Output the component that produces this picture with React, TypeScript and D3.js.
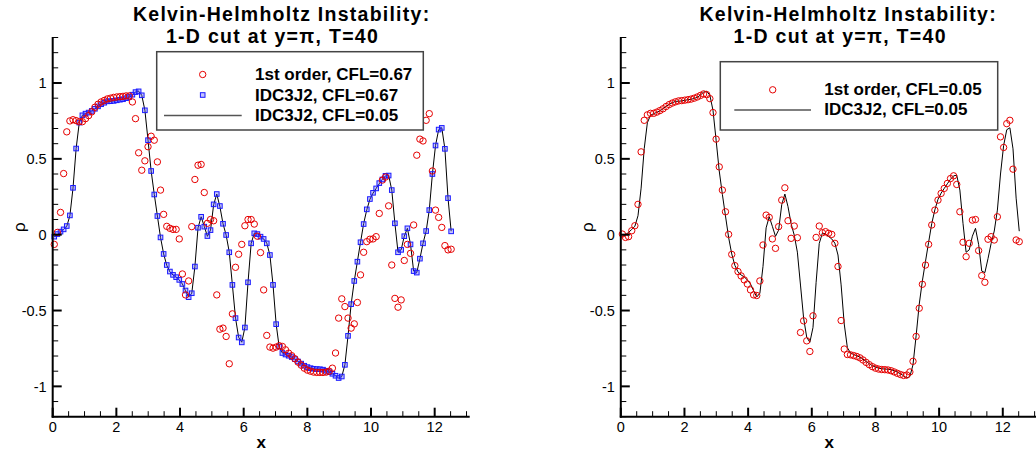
import React from 'react';
import * as d3 from 'd3';

// ---------- data ----------
const cellCount = 128;
const cellWidth = Math.PI / 32; // 4*pi / 128 cells
const xCells = d3.range(cellCount).map((i) => (i + 0.5) * cellWidth);

// IDC3J2, CFL=0.05 (reference line)
const idc3j2Cfl005 = [
  -0.013, 0.0, 0.015, 0.035, 0.055, 0.125, 0.307, 0.568, 0.738, 0.787,
  0.798, 0.806, 0.816, 0.83, 0.846, 0.86, 0.87, 0.879, 0.88, 0.882,
  0.886, 0.89, 0.893, 0.898, 0.906, 0.921, 0.94, 0.946, 0.919, 0.82,
  0.623, 0.42, 0.266, 0.123, -0.018, -0.127, -0.202, -0.245, -0.266, -0.278,
  -0.299, -0.325, -0.37, -0.411, -0.386, -0.21, 0.045, 0.118, 0.055, -0.011,
  0.03, 0.198, 0.268, 0.185, 0.072, -0.003, -0.115, -0.332, -0.55, -0.677,
  -0.709, -0.612, -0.314, -0.058, 0.01, 0.006, -0.012, -0.028, -0.056, -0.134,
  -0.331, -0.589, -0.745, -0.78, -0.79, -0.798, -0.807, -0.82, -0.836, -0.85,
  -0.864, -0.873, -0.88, -0.884, -0.886, -0.887, -0.89, -0.897, -0.906, -0.917,
  -0.93, -0.945, -0.935, -0.858, -0.667, -0.458, -0.305, -0.176, -0.05, 0.073,
  0.164, 0.233, 0.274, 0.305, 0.336, 0.365, 0.388, 0.392, 0.294, 0.075,
  -0.116, -0.1, -0.01, 0.042, -0.064, -0.24, -0.25, -0.158, -0.057, 0.024,
  0.162, 0.4, 0.588, 0.692, 0.705, 0.566, 0.241, 0.023,
];

// IDC3J2, CFL=0.67 (squares) – read as lying on the reference curve
const idc3j2Cfl067 = [
  -0.013, 0.004, 0.02, 0.035, 0.057, 0.127, 0.309, 0.568, 0.739, 0.787,
  0.798, 0.805, 0.816, 0.83, 0.846, 0.86, 0.87, 0.879, 0.88, 0.882,
  0.886, 0.89, 0.893, 0.9, 0.908, 0.923, 0.94, 0.945, 0.919, 0.82,
  0.623, 0.42, 0.265, 0.123, -0.018, -0.127, -0.2, -0.243, -0.265, -0.28,
  -0.298, -0.325, -0.368, -0.412, -0.386, -0.21, 0.046, 0.118, 0.053, -0.009,
  0.03, 0.2, 0.268, 0.189, 0.072, -0.002, -0.116, -0.331, -0.55, -0.678,
  -0.71, -0.612, -0.314, -0.057, 0.009, 0.004, -0.013, -0.028, -0.057, -0.134,
  -0.331, -0.59, -0.737, -0.78, -0.79, -0.798, -0.807, -0.82, -0.836, -0.85,
  -0.864, -0.873, -0.88, -0.884, -0.886, -0.887, -0.89, -0.897, -0.906, -0.917,
  -0.93, -0.945, -0.935, -0.858, -0.667, -0.458, -0.305, -0.178, -0.05, 0.07,
  0.167, 0.235, 0.276, 0.305, 0.34, 0.364, 0.388, 0.39, 0.294, 0.075,
  -0.116, -0.1, -0.01, 0.042, -0.064, -0.24, -0.25, -0.158, -0.057, 0.024,
  0.162, 0.4, 0.588, 0.693, 0.704, 0.566, 0.241, 0.022,
];

// 1st order, CFL=0.67 (left panel circles)
const firstOrderCfl067 = [
  -0.064, 0.015, 0.147, 0.403, 0.678, 0.75, 0.758, 0.752, 0.745, 0.745,
  0.765, 0.785, 0.81, 0.84, 0.86, 0.875, 0.885, 0.895, 0.9, 0.905,
  0.908, 0.91, 0.912, 0.915, 0.915, 0.875, 0.765, 0.54, 0.425, 0.487,
  0.58, 0.649, 0.623, 0.48, 0.294, 0.134, 0.055, 0.042, 0.035, 0.035,
  -0.028, -0.259, -0.397, -0.305, 0.053, 0.364, 0.458, 0.463, 0.278, 0.075,
  0.1, 0.092, -0.397, -0.623, -0.616, -0.671, -0.851, -0.522, -0.215, -0.129,
  -0.064, 0.059, 0.1, 0.1, 0.07, -0.01, -0.118, -0.364, -0.664, -0.741,
  -0.748, -0.741, -0.732, -0.737, -0.759, -0.781, -0.798, -0.818, -0.84, -0.86,
  -0.88, -0.893, -0.9, -0.906, -0.908, -0.908, -0.908, -0.906, -0.9, -0.88,
  -0.78, -0.55, -0.423, -0.474, -0.55, -0.616, -0.588, -0.447, -0.265, -0.116,
  -0.046, -0.03, -0.028, -0.013, 0.14, 0.36, 0.38, 0.19, -0.2, -0.42,
  -0.478, -0.43, -0.17, -0.064, -0.123, 0.064, 0.524, 0.63, 0.618, 0.754,
  0.798, 0.42, 0.162, 0.114, 0.048, -0.072, -0.1, -0.096,
];

// 1st order, CFL=0.05 (right panel circles)
const firstOrderCfl005 = [
  0.004, -0.018, -0.013, 0.026, 0.059, 0.2, 0.546, 0.754, 0.79, 0.8,
  0.8, 0.808, 0.818, 0.83, 0.845, 0.858, 0.868, 0.876, 0.882, 0.884,
  0.887, 0.89, 0.894, 0.9, 0.908, 0.918, 0.928, 0.923, 0.897, 0.805,
  0.63, 0.447, 0.294, 0.151, 0.002, -0.13, -0.204, -0.243, -0.272, -0.298,
  -0.325, -0.364, -0.397, -0.401, -0.305, -0.068, 0.129, 0.114, -0.028, -0.09,
  0.053, 0.228, 0.309, 0.092, -0.024, 0.057, -0.02, -0.645, -0.568, -0.7,
  -0.77, -0.535, -0.018, 0.057, 0.013, 0.02, 0.009, 0.002, -0.057, -0.21,
  -0.566, -0.754, -0.79, -0.792, -0.797, -0.803, -0.812, -0.826, -0.842, -0.857,
  -0.87, -0.88, -0.886, -0.889, -0.89, -0.892, -0.897, -0.905, -0.914, -0.922,
  -0.928, -0.925, -0.905, -0.835, -0.671, -0.485, -0.327, -0.2, -0.064, 0.064,
  0.162, 0.228, 0.272, 0.305, 0.338, 0.37, 0.388, 0.331, 0.151, -0.05,
  -0.145, -0.057, 0.096, 0.1, -0.105, -0.27, -0.314, -0.03, -0.013, -0.035,
  0.118, 0.645, 0.575, 0.732, 0.754, 0.432, -0.035, -0.046,
];

const xMajorTicks = [0, 2, 4, 6, 8, 10, 12];
const yMajorTicks = [-1, -0.5, 0, 0.5, 1];
const titleLine1 = 'Kelvin-Helmholtz Instability:';
const titleLine2 = '1-D cut at y=\u03c0, T=40';
const leftLegendLabels = ['1st order, CFL=0.67', 'IDC3J2, CFL=0.67', 'IDC3J2, CFL=0.05'];
const rightLegendLabels = ['1st order, CFL=0.05', 'IDC3J2, CFL=0.05'];

// ---------- layout ----------
const W = 1036;
const H = 455;
const plotTop = 37.5;
const plotBottom = 416.7;
const plotWidth = 417;
const xDomain = [0, 13.1];
const yDomain = [-1.2, 1.3];
const FONT = '"Liberation Sans", Arial, Helvetica, sans-serif';
const RED = '#e60000';
const BLUE = '#1a1aff';

type LegendItem = { kind: 'circle' | 'square' | 'line'; label: string; y: number };

type Panel = {
  left: number;
  title1X: number;
  title2X: number;
  box: { x: number; y: number; w: number; h: number };
  symX: number;
  lineX0: number;
  lineX1: number;
  textX: number;
  items: LegendItem[];
  circles: number[];
  squares: number[] | null;
};

const panels: Panel[] = [
  {
    left: 52.7,
    title1X: 281.7,
    title2X: 272.5,
    box: { x: 156.7, y: 51.7, w: 266.6, h: 78.3 },
    symX: 202.7,
    lineX0: 164,
    lineX1: 241.7,
    textX: 255,
    items: [
      { kind: 'circle', label: leftLegendLabels[0], y: 80 },
      { kind: 'square', label: leftLegendLabels[1], y: 100.5 },
      { kind: 'line', label: leftLegendLabels[2], y: 120.7 },
    ],
    circles: firstOrderCfl067,
    squares: idc3j2Cfl067,
  },
  {
    left: 620.8,
    title1X: 848.2,
    title2X: 840.2,
    box: { x: 720.3, y: 61.7, w: 277.4, h: 68.3 },
    symX: 772.7,
    lineX0: 734.3,
    lineX1: 811,
    textX: 824.3,
    items: [
      { kind: 'circle', label: rightLegendLabels[0], y: 95.3 },
      { kind: 'line', label: rightLegendLabels[1], y: 115.3 },
    ],
    circles: firstOrderCfl005,
    squares: null,
  },
];

const fmt = (v: number) => String(v);

function PanelView({ p }: { p: Panel }) {
  const x = d3.scaleLinear().domain(xDomain).range([p.left, p.left + plotWidth]);
  const y = d3.scaleLinear().domain(yDomain).range([plotBottom, plotTop]);
  const line = d3
    .line<number>()
    .x((_, i) => x(xCells[i]))
    .y((d) => y(d));
  const xMinor = d3.range(0, 13.05, 0.5).filter((v) => !xMajorTicks.includes(v));
  const yMinor = d3
    .range(-12, 14)
    .map((k) => k / 10)
    .filter((v) => !yMajorTicks.some((m) => Math.abs(m - v) < 1e-9));
  const x0 = p.left;
  const sq = 4.6;
  return (
    <g>
      {/* title */}
      <text
        x={p.title1X}
        y={21}
        textAnchor="middle"
        fontFamily={FONT}
        fontWeight="bold"
        fontSize={19.5}
        letterSpacing={1.25}
      >
        {titleLine1}
      </text>
      <text
        x={p.title2X}
        y={43}
        textAnchor="middle"
        fontFamily={FONT}
        fontWeight="bold"
        fontSize={19.5}
        letterSpacing={1.3}
      >
        {titleLine2}
      </text>

      {/* data */}
      <path d={line(idc3j2Cfl005) || ''} fill="none" stroke="#000" strokeWidth={1} />
      {p.squares &&
        p.squares.map((v, i) => (
          <rect
            key={'s' + i}
            x={x(xCells[i]) - sq / 2}
            y={y(v) - sq / 2}
            width={sq}
            height={sq}
            fill="rgba(90,90,255,0.35)"
            stroke={BLUE}
            strokeWidth={1}
          />
        ))}
      {p.circles.map((v, i) => (
        <circle key={'c' + i} cx={x(xCells[i])} cy={y(v)} r={3.2} fill="none" stroke={RED} strokeWidth={1} />
      ))}

      {/* legend */}
      <rect x={p.box.x} y={p.box.y} width={p.box.w} height={p.box.h} fill="#fff" stroke="#444" strokeWidth={1.5} />
      {p.items.map((it, k) => (
        <g key={'l' + k}>
          {it.kind === 'circle' && (
            <circle cx={p.symX} cy={it.y - 5.5} r={3.2} fill="none" stroke={RED} strokeWidth={1} />
          )}
          {it.kind === 'square' && (
            <rect
              x={p.symX - sq / 2}
              y={it.y - 5.5 - sq / 2}
              width={sq}
              height={sq}
              fill="rgba(90,90,255,0.35)"
              stroke={BLUE}
              strokeWidth={1}
            />
          )}
          {it.kind === 'line' && (
            <line x1={p.lineX0} x2={p.lineX1} y1={it.y - 5.3} y2={it.y - 5.3} stroke="#555" strokeWidth={1.5} />
          )}
          <text x={p.textX} y={it.y} fontFamily={FONT} fontWeight="bold" fontSize={17}>
            {it.label}
          </text>
        </g>
      ))}

      {/* axes */}
      <line x1={x0} x2={x0} y1={plotTop - 0.5} y2={plotBottom + 1} stroke="#000" strokeWidth={2} />
      <line x1={x0 - 1} x2={p.left + plotWidth} y1={plotBottom} y2={plotBottom} stroke="#000" strokeWidth={2} />
      {xMajorTicks.map((v) => (
        <g key={'xt' + v}>
          <line x1={x(v)} x2={x(v)} y1={plotBottom} y2={plotBottom - 9} stroke="#000" strokeWidth={2} />
          <text x={x(v)} y={432} textAnchor="middle" fontFamily={FONT} fontSize={14.5}>
            {fmt(v)}
          </text>
        </g>
      ))}
      {xMinor.map((v) => (
        <line key={'xm' + v} x1={x(v)} x2={x(v)} y1={plotBottom} y2={plotBottom - 5.5} stroke="#000" strokeWidth={1} />
      ))}
      {yMajorTicks.map((v) => (
        <g key={'yt' + v}>
          <line x1={x0} x2={x0 + 9} y1={y(v)} y2={y(v)} stroke="#000" strokeWidth={2} />
          <text x={x0 - 6} y={y(v) + 5.2} textAnchor="end" fontFamily={FONT} fontSize={14.5}>
            {fmt(v)}
          </text>
        </g>
      ))}
      {yMinor.map((v) => (
        <line key={'ym' + v} x1={x0} x2={x0 + 5.5} y1={y(v)} y2={y(v)} stroke="#000" strokeWidth={1} />
      ))}

      {/* axis titles */}
      <text
        x={p.left + plotWidth / 2}
        y={448}
        textAnchor="middle"
        fontFamily={FONT}
        fontWeight="bold"
        fontSize={17}
      >
        x
      </text>
      <text
        transform={`translate(${x0 - 28},${(plotTop + plotBottom) / 2}) rotate(-90)`}
        textAnchor="middle"
        fontFamily={FONT}
        fontSize={17}
      >
        {'\u03c1'}
      </text>
    </g>
  );
}

export default function App() {
  return (
    <svg
      width={W}
      height={H}
      viewBox={`0 0 ${W} ${H}`}
      style={{ position: 'absolute', left: 0, top: 0, background: '#fff' }}
    >
      <rect x={0} y={0} width={W} height={H} fill="#fff" />
      {panels.map((p, i) => (
        <PanelView key={i} p={p} />
      ))}
    </svg>
  );
}
